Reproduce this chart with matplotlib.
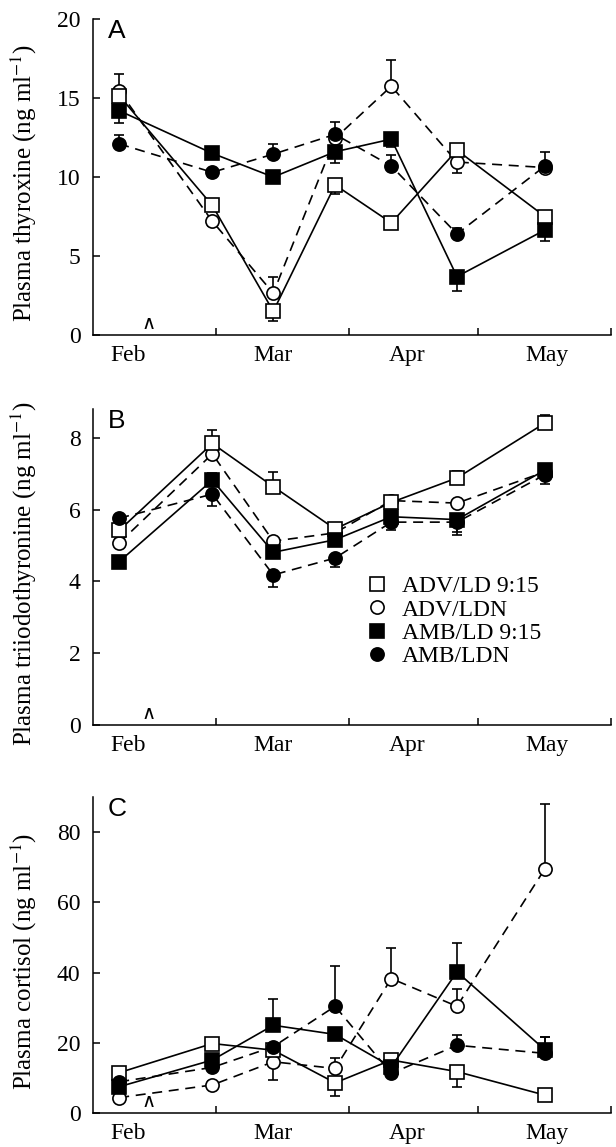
import numpy as np
import matplotlib
matplotlib.use('Agg')
import matplotlib.pyplot as plt
import matplotlib.transforms as mtransforms
from matplotlib.lines import Line2D

plt.rcParams['font.family'] = ['Liberation Serif', 'DejaVu Serif']
plt.rcParams['mathtext.fontset'] = 'stix'

# sampling dates (day of year)
days = [37.4, 59.1, 73.3, 87.7, 100.8, 116.1, 136.6]
month_edges = [60, 91, 121, 152]
month_names = ['Feb', 'Mar', 'Apr', 'May']
month_label_pos = [39.5, 73.3, 104.5, 137.0]

groups = ['ADV/LD 9:15', 'ADV/LDN', 'AMB/LD 9:15', 'AMB/LDN']

# A: thyroxine
t4_adv_ld = [15.15, 8.2, 1.5, 9.5, 7.1, 11.7, 7.5]
t4_adv_ldn = [15.45, 7.2, 2.65, 12.45, 15.75, 10.95, 10.6]
t4_amb_ld = [14.2, 11.5, 10.0, 11.6, 12.4, 3.7, 6.65]
t4_amb_ldn = [12.1, 10.3, 11.45, 12.7, 10.7, 6.4, 10.7]
# signed SEM: + drawn upward, - drawn downward
t4_adv_ld_err = [0.3, -0.3, -0.6, -0.6, 0.3, 0.3, 0.3]
t4_adv_ldn_err = [1.05, -0.3, 1.0, 0.3, 1.65, -0.7, 0.3]
t4_amb_ld_err = [-0.8, 0.3, -0.3, -0.7, -0.5, -0.9, -0.7]
t4_amb_ldn_err = [0.55, -0.3, 0.65, 0.8, 0.7, 0.4, 0.9]

# B: triiodothyronine
t3_adv_ld = [5.42, 7.84, 6.64, 5.46, 6.2, 6.88, 8.41]
t3_adv_ldn = [5.07, 7.55, 5.12, 5.35, 6.25, 6.18, 7.05]
t3_amb_ld = [4.55, 6.82, 4.81, 5.16, 5.8, 5.72, 7.1]
t3_amb_ldn = [5.76, 6.43, 4.18, 4.65, 5.65, 5.65, 6.97]
t3_adv_ld_err = [-0.1, 0.38, 0.42, 0.1, 0.19, 0.2, 0.23]
t3_adv_ldn_err = [0.1, 0.2, 0.1, 0.1, 0.1, 0.1, 0.1]
t3_amb_ld_err = [0.1, 0.2, -0.1, -0.1, -0.2, -0.35, -0.2]
t3_amb_ldn_err = [0.1, -0.34, -0.34, -0.25, -0.23, -0.35, -0.26]

# C: cortisol
cort_adv_ld = [11.5, 19.8, 17.9, 8.6, 15.1, 11.8, 5.1]
cort_adv_ldn = [4.4, 8.0, 14.6, 12.7, 38.3, 30.4, 69.6]
cort_amb_ld = [7.5, 15.1, 25.0, 22.4, 13.2, 40.2, 18.0]
cort_amb_ldn = [8.9, 13.0, 18.9, 30.4, 11.3, 19.3, 17.0]
cort_adv_ld_err = [1, 1, 1.5, -3.7, 1, -4.3, 1]
cort_adv_ldn_err = [1, 1, -5.2, 2.9, 8.8, 4.9, 18.5]
cort_amb_ld_err = [1, 1, 7.6, 1, 1, 8.1, 3.7]
cort_amb_ldn_err = [1, 1, 1, 11.5, 1, 2.9, 4.7]

styles = [
    dict(marker='s', mfc='white', ls='-'),
    dict(marker='o', mfc='white', ls=(0, (6, 4))),
    dict(marker='s', mfc='black', ls='-'),
    dict(marker='o', mfc='black', ls=(0, (6, 4))),
]
draw_order = [1, 0, 2, 3]

panels = [
    ('A', 'Plasma thyroxine (ng ml$^{-1}$)', (0, 20), [0, 5, 10, 15, 20],
     [t4_adv_ld, t4_adv_ldn, t4_amb_ld, t4_amb_ldn],
     [t4_adv_ld_err, t4_adv_ldn_err, t4_amb_ld_err, t4_amb_ldn_err], 0.7079),
    ('B', 'Plasma triiodothyronine (ng ml$^{-1}$)', (0, 8.8), [0, 2, 4, 6, 8],
     [t3_adv_ld, t3_adv_ldn, t3_amb_ld, t3_amb_ldn],
     [t3_adv_ld_err, t3_adv_ldn_err, t3_amb_ld_err, t3_amb_ldn_err], 0.3679),
    ('C', 'Plasma cortisol (ng ml$^{-1}$)', (0, 90), [0, 20, 40, 60, 80],
     [cort_adv_ld, cort_adv_ldn, cort_amb_ld, cort_amb_ldn],
     [cort_adv_ld_err, cort_adv_ldn_err, cort_amb_ld_err, cort_amb_ldn_err], 0.0296),
]

fig = plt.figure(figsize=(6.16, 11.47), dpi=100)

for letter, ylabel, ylim, yticks, series, errs, bottom in panels:
    ax = fig.add_axes([0.151, bottom, 0.841, 0.2755])
    for i in draw_order:
        st = styles[i]
        err = np.array(errs[i], dtype=float)
        up = np.clip(err, 0, None)
        dn = np.clip(-err, 0, None)
        ax.errorbar(days, series[i], yerr=[dn, up], color='black', lw=1.2,
                    ls=st['ls'], marker=st['marker'], mfc=st['mfc'], mec='black',
                    mew=1.2, ms=9.5, capsize=3.5, elinewidth=1.2, capthick=1.2)
    ax.set_xlim(31.3, 152)
    ax.set_ylim(*ylim)
    ax.set_yticks(yticks)
    ax.set_xticks(month_edges)
    ax.set_xticklabels([])
    ax.set_xticks(month_label_pos, minor=True)
    ax.set_xticklabels(month_names, minor=True)
    ax.tick_params(axis='both', which='major', direction='in', length=5, width=1.1,
                   labelsize=17)
    ax.tick_params(axis='y', pad=9)
    ax.tick_params(axis='x', which='minor', length=0, pad=7, labelsize=17)
    ax.spines['top'].set_visible(False)
    ax.spines['right'].set_visible(False)
    ax.spines['left'].set_linewidth(1.1)
    ax.spines['bottom'].set_linewidth(1.1)
    ax.set_ylabel(ylabel, fontsize=18)
    ax.yaxis.set_label_coords(-0.105, 0.48)
    ax.text(0.028, 1.0, letter, transform=ax.transAxes, fontsize=19,
            family='Liberation Sans', va='top', ha='left')
    caret = mtransforms.offset_copy(ax.transData, fig=fig, x=0, y=12, units='dots')
    ax.text(44.2, 0, '\u2227', transform=caret, fontsize=14, family='DejaVu Sans',
            ha='center', va='center')
    if letter == 'B':
        handles = [Line2D([], [], ls='None', marker=st['marker'], mfc=st['mfc'],
                          mec='black', mew=1.2, ms=9.5) for st in styles]
        ax.legend(handles, groups, loc='upper left', bbox_to_anchor=(0.503, 0.51),
                  frameon=False, fontsize=17, handlelength=1.0,
                  handletextpad=0.55, labelspacing=0.08, borderpad=0)

fig.savefig('out.png', dpi=100)
